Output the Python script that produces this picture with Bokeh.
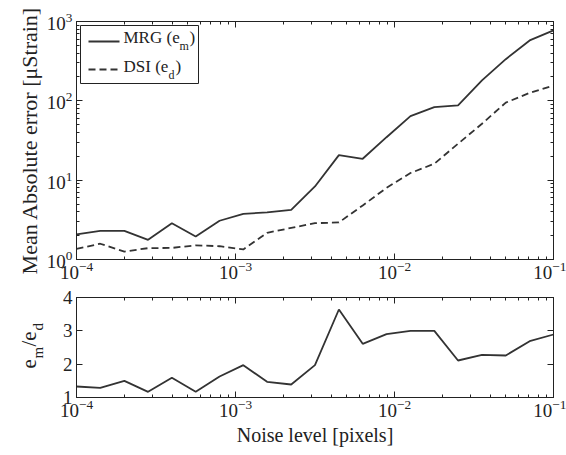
import math
from bokeh.plotting import figure
from bokeh.layouts import column, row
from bokeh.models import (Range1d, FixedTicker, LogAxis, LinearAxis,
                          CustomJSTickFormatter, Label)
from bokeh.embed import file_html
from bokeh.resources import INLINE

# ---------------- data ----------------
noise = [1.0e-4, 1.41e-4, 2.0e-4, 2.82e-4, 3.98e-4, 5.62e-4, 7.94e-4,
         1.12e-3, 1.58e-3, 2.24e-3, 3.16e-3, 4.47e-3, 6.31e-3, 8.91e-3,
         1.26e-2, 1.78e-2, 2.51e-2, 3.55e-2, 5.01e-2, 7.08e-2, 1.0e-1]
mrg = [2.07, 2.30, 2.30, 1.77, 2.87, 1.95, 3.08, 3.77, 3.92, 4.23, 8.33,
       20.7, 18.6, 34.8, 64.1, 83.3, 87.5, 181, 335, 577, 772]
dsi = [1.36, 1.58, 1.26, 1.39, 1.40, 1.51, 1.47, 1.34, 2.17, 2.50, 2.87,
       2.93, 4.8, 8.0, 12.3, 16.1, 28.8, 51.4, 95, 126, 156]
ratio = [1.33, 1.29, 1.50, 1.17, 1.59, 1.17, 1.63, 1.97, 1.47, 1.39, 1.97,
         3.64, 2.61, 2.90, 3.00, 3.00, 2.11, 2.28, 2.26, 2.69, 2.89]

x_major = [1e-4, 1e-3, 1e-2, 1e-1]
x_minor = [k * 10.0 ** e for e in (-4, -3, -2) for k in range(2, 10)]
y1_major = [1, 10, 100, 1000]
y1_minor = [k * 10.0 ** e for e in (0, 1, 2) for k in range(2, 10)]
y2_major = [1, 2, 3, 4]

FONT = "Liberation Serif"
INK = "#222222"
LINE = "#333333"
DASH = "7 4"

W = 566
FL, FR = 76, 553          # frame left / right (px)
T1, B1 = 21, 259          # top plot frame top / bottom
H1 = 288
H2 = 167
T2 = 9                    # top border of bottom plot
FH2 = 100
LW = 48                   # width of the strip holding the e_m/e_d label


def style_axis(ax, labels=True):
    ax.axis_line_color = INK
    ax.major_tick_line_color = INK
    ax.minor_tick_line_color = INK
    ax.major_tick_in = 6
    ax.major_tick_out = 0
    ax.minor_tick_in = 3
    ax.minor_tick_out = 0
    ax.major_label_text_font = FONT
    ax.major_label_text_font_size = "19px"
    ax.major_label_text_color = INK
    ax.axis_label_text_font = FONT
    ax.axis_label_text_font_size = "20px"
    ax.axis_label_text_font_style = "normal"
    ax.axis_label_text_color = INK
    ax.major_label_standoff = 4
    if not labels:
        ax.formatter = CustomJSTickFormatter(code="return ''")
        ax.major_label_standoff = 0


# ---------------- top plot ----------------
p1 = figure(width=W, height=H1, x_axis_type="log", y_axis_type="log",
            x_range=Range1d(1e-4, 1e-1), y_range=Range1d(1, 1000),
            output_backend="svg", toolbar_location=None,
            min_border_left=FL, min_border_right=W - FR,
            min_border_top=T1, min_border_bottom=H1 - B1)
p1.grid.visible = False
p1.outline_line_color = INK

p1.xaxis.ticker = FixedTicker(ticks=x_major, minor_ticks=x_minor)
p1.yaxis.ticker = FixedTicker(ticks=y1_major, minor_ticks=y1_minor)
p1.yaxis.axis_label = "Mean Absolute error [μStrain]"
for ax in p1.xaxis + p1.yaxis:
    style_axis(ax)
p1.yaxis.axis_label_text_font_size = "22px"
p1.yaxis.axis_label_standoff = 2
p1.xaxis.major_label_standoff = 2

ax_top = LogAxis(ticker=FixedTicker(ticks=x_major, minor_ticks=x_minor))
style_axis(ax_top, labels=False)
p1.add_layout(ax_top, "above")
ax_right = LogAxis(ticker=FixedTicker(ticks=y1_major, minor_ticks=y1_minor))
style_axis(ax_right, labels=False)
p1.add_layout(ax_right, "right")

p1.line(noise, mrg, line_color=LINE, line_width=1.8)
p1.line(noise, dsi, line_color=LINE, line_width=1.8, line_dash=DASH)


# legend (positions given in frame pixels, converted to the log scales)
def fx(px):
    return 10 ** (-4 + 3 * (px - FL) / (FR - FL))


def fy1(py):
    return 10 ** (3 * (B1 - py) / (B1 - T1))


p1.quad(left=[fx(80)], right=[fx(198)], top=[fy1(25)], bottom=[fy1(83)],
        fill_color="white", line_color=INK, line_width=1)
p1.line([fx(88), fx(119)], [fy1(41), fy1(41)], line_color=LINE, line_width=1.8)
p1.line([fx(88), fx(119)], [fy1(69), fy1(69)], line_color=LINE, line_width=1.8,
        line_dash=DASH)


def txt(p, x, y, s, size="17px", angle=0.0):
    lab = Label(x=x, y=y, text=s, text_font=FONT, text_font_size=size,
                text_color=INK, text_align="left", text_baseline="alphabetic",
                angle=angle)
    p.add_layout(lab)


txt(p1, fx(123), fy1(37), "MRG (e")
txt(p1, fx(179), fy1(45), "m", "12px")
txt(p1, fx(189), fy1(37), ")")
txt(p1, fx(123), fy1(66), "DSI (e")
txt(p1, fx(168), fy1(74), "d", "12px")
txt(p1, fx(175), fy1(66), ")")

# ---------------- bottom plot ----------------
p2 = figure(width=W - LW, height=H2, x_axis_type="log",
            x_range=Range1d(1e-4, 1e-1), y_range=Range1d(1, 4),
            output_backend="svg", toolbar_location=None,
            min_border_left=FL - LW, min_border_right=W - FR,
            min_border_top=T2, min_border_bottom=H2 - T2 - FH2)
p2.grid.visible = False
p2.outline_line_color = INK
p2.xaxis.ticker = FixedTicker(ticks=x_major, minor_ticks=x_minor)
p2.yaxis.ticker = FixedTicker(ticks=y2_major)
p2.xaxis.axis_label = "Noise level [pixels]"
for ax in p2.xaxis + p2.yaxis:
    style_axis(ax)
p2.xaxis.axis_label_standoff = 4
p2.xaxis.major_label_standoff = 2
p2.yaxis.minor_tick_line_color = None

ax_top2 = LogAxis(ticker=FixedTicker(ticks=x_major, minor_ticks=x_minor))
style_axis(ax_top2, labels=False)
p2.add_layout(ax_top2, "above")
ax_right2 = LinearAxis(ticker=FixedTicker(ticks=y2_major))
style_axis(ax_right2, labels=False)
ax_right2.minor_tick_line_color = None
p2.add_layout(ax_right2, "right")

p2.line(noise, ratio, line_color=LINE, line_width=1.8)

# ---------------- strip with the rotated e_m / e_d label ----------------
pl = figure(frame_width=LW, frame_height=H2, title=None,
            x_range=Range1d(0, LW), y_range=Range1d(0, H2),
            output_backend="svg", toolbar_location=None,
            x_axis_location=None, y_axis_location=None,
            min_border_left=0, min_border_right=0,
            min_border_top=0, min_border_bottom=0)
pl.grid.visible = False
pl.outline_line_color = None

A = math.pi / 2


def sy(py):
    # page pixel row -> strip data coordinate (strip starts at page row H1)
    return H1 + H2 - py


txt(pl, 28, sy(359), "e", "21px", A)
txt(pl, 37, sy(349), "m", "15px", A)
txt(pl, 28, sy(337), "/e", "21px", A)
txt(pl, 37, sy(321), "d", "15px", A)

layout = column(p1, row(pl, p2, spacing=0), spacing=0)
open("out.html", "w").write(file_html(layout, INLINE))
